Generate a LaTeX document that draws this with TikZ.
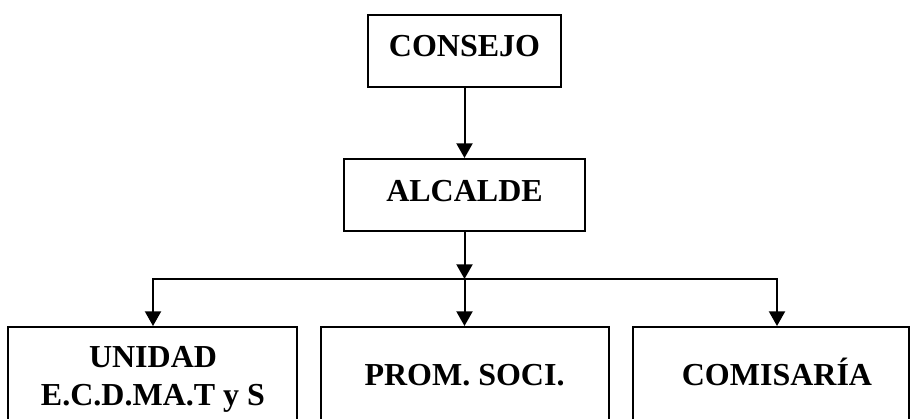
\documentclass[tikz,border=0pt]{standalone}
\usepackage{fontspec}
\setmainfont{Liberation Serif}
\usetikzlibrary{arrows.meta}
\begin{document}
\begin{tikzpicture}[x=0.75pt,y=-0.75pt,
  box/.style={draw, line width=1.5pt, inner sep=0pt, rectangle},
  lbl/.style={anchor=base, font=\fontsize{24}{28}\selectfont\bfseries, inner sep=0pt},
  conn/.style={line width=1.5pt, -{Triangle[width=12pt,length=11pt]}}]
\useasboundingbox (0,0) rectangle (910,418);
\clip (0,0) rectangle (910,418);
% boxes
\node[box, minimum width=193*0.75pt, minimum height=72*0.75pt] (consejo) at (464.5,51) {};
\node[box, minimum width=241*0.75pt, minimum height=72*0.75pt] (alcalde) at (464.5,195) {};
\node[box, minimum width=289*0.75pt, minimum height=103*0.75pt] (unidad) at (152.5,378.5) {};
\node[box, minimum width=288*0.75pt, minimum height=103*0.75pt] (prom) at (464.5,378.5) {};
\node[box, minimum width=276*0.75pt, minimum height=103*0.75pt] (comis) at (771,378.5) {};
% labels
\node[lbl] (tconsejo) at (464.5,56) {CONSEJO};
\node[lbl] (talcalde) at (464.5,201) {ALCALDE};
\node[lbl] (tunidad1) at (153,367) {UNIDAD};
\node[lbl] (tunidad2) at (153,405) {E.C.D.MA.T y S};
\node[lbl] (tprom) at (464.5,385) {PROM. SOCI.};
\node[lbl] (tcomis) at (777,385) {COMISARÍA};
% connectors
\coordinate (bus) at (464.5,279);
\coordinate (busL) at (153,279);
\coordinate (busR) at (777,279);
\draw[conn] (consejo.south) -- (alcalde.north);
\draw[conn] (alcalde.south) -- (bus);
\draw[conn] (bus) -- (busL) -- (busL |- unidad.north);
\draw[conn] (bus) -- (prom.north);
\draw[conn] (bus) -- (busR) -- (busR |- comis.north);
\end{tikzpicture}
\end{document}
